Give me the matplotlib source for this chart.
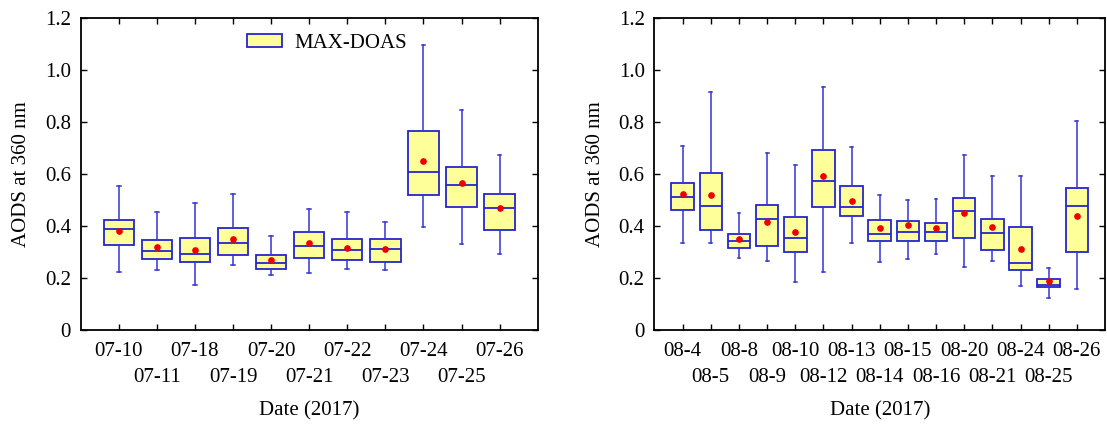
import matplotlib
matplotlib.use("Agg")
import matplotlib.pyplot as plt
from matplotlib.patches import Patch

plt.rcParams['font.family'] = ['Liberation Serif', 'DejaVu Serif']
FS = 15
plt.rcParams['font.size'] = FS

# ---- July 2017 daily AOD statistics ----
july_dates = ["07-10", "07-11", "07-18", "07-19", "07-20", "07-21",
              "07-22", "07-23", "07-24", "07-25", "07-26"]
july_low = [0.222, 0.229, 0.174, 0.250, 0.210, 0.221, 0.234, 0.231, 0.396, 0.330, 0.294]
july_q1 = [0.328, 0.275, 0.261, 0.290, 0.234, 0.276, 0.268, 0.261, 0.518, 0.475, 0.386]
july_med = [0.389, 0.305, 0.294, 0.335, 0.256, 0.325, 0.307, 0.312, 0.607, 0.557, 0.470]
july_q3 = [0.424, 0.348, 0.354, 0.394, 0.288, 0.377, 0.350, 0.350, 0.764, 0.627, 0.524]
july_high = [0.555, 0.452, 0.488, 0.523, 0.360, 0.466, 0.452, 0.417, 1.095, 0.846, 0.672]
july_mean = [0.380, 0.318, 0.308, 0.351, 0.271, 0.334, 0.316, 0.311, 0.649, 0.566, 0.469]

# ---- August 2017 daily AOD statistics ----
aug_dates = ["08-4", "08-5", "08-8", "08-9", "08-10", "08-12", "08-13", "08-14",
             "08-15", "08-16", "08-20", "08-21", "08-24", "08-25", "08-26"]
aug_low = [0.335, 0.333, 0.276, 0.267, 0.183, 0.223, 0.335, 0.263,
           0.274, 0.292, 0.242, 0.264, 0.171, 0.122, 0.159]
aug_q1 = [0.462, 0.386, 0.317, 0.323, 0.300, 0.473, 0.438, 0.344,
          0.341, 0.341, 0.355, 0.306, 0.231, 0.164, 0.299]
aug_med = [0.512, 0.478, 0.341, 0.427, 0.354, 0.573, 0.474, 0.368,
           0.378, 0.377, 0.458, 0.374, 0.258, 0.174, 0.477]
aug_q3 = [0.565, 0.603, 0.369, 0.481, 0.433, 0.694, 0.554, 0.422,
          0.419, 0.412, 0.508, 0.426, 0.395, 0.195, 0.546]
aug_high = [0.709, 0.915, 0.451, 0.681, 0.636, 0.936, 0.705, 0.521,
            0.501, 0.505, 0.674, 0.591, 0.591, 0.238, 0.804]
aug_mean = [0.524, 0.518, 0.351, 0.415, 0.377, 0.592, 0.497, 0.392,
            0.403, 0.394, 0.450, 0.397, 0.313, 0.187, 0.437]

yticks = [0, 0.2, 0.4, 0.6, 0.8, 1.0, 1.2]
ytick_labels = ["0", "0.2", "0.4", "0.6", "0.8", "1.0", "1.2"]

BOX_FACE = "#ffff99"
BOX_EDGE = "#2424d0"
WHISK = "#3434d6"
MEAN_C = "#ee0000"


def draw_panel(ax, dates, low, q1, med, q3, high, mean):
    stats = []
    for i in range(len(dates)):
        stats.append(dict(whislo=low[i], q1=q1[i], med=med[i], q3=q3[i],
                          whishi=high[i], mean=mean[i], fliers=[]))
    pos = list(range(1, len(dates) + 1))
    ax.bxp(stats, positions=pos, widths=0.8, patch_artist=True,
           showmeans=True, showfliers=False, manage_ticks=False,
           capwidths=0.1,
           boxprops=dict(facecolor=BOX_FACE, edgecolor=BOX_EDGE, linewidth=1.3),
           medianprops=dict(color=BOX_EDGE, linewidth=1.3),
           whiskerprops=dict(color=WHISK, linewidth=1.1),
           capprops=dict(color=WHISK, linewidth=1.1),
           meanprops=dict(marker="o", markerfacecolor=MEAN_C,
                          markeredgecolor=MEAN_C, markersize=3.8))
    ax.set_xlim(0, len(dates) + 1)
    ax.set_ylim(0, 1.2)
    # dates alternate between an upper row (major ticks) and a lower row (minor ticks)
    ax.set_xticks(pos[0::2], dates[0::2])
    ax.set_xticks(pos[1::2], dates[1::2], minor=True)
    ax.set_yticks(yticks, ytick_labels)
    ax.tick_params(axis="both", which="both", direction="in", top=True,
                   right=True, length=4.3, width=1.0, labelsize=FS)
    ax.tick_params(axis="x", which="major", pad=9)
    ax.tick_params(axis="x", which="minor", pad=27.5)
    ax.tick_params(axis="y", pad=7)
    for sp in ax.spines.values():
        sp.set_linewidth(1.3)
    ax.set_ylabel("AODS at 360 nm", fontsize=FS)
    ax.set_xlabel("Date (2017)", fontsize=FS)


fig = plt.figure(figsize=(11.07, 4.24), dpi=100)
ax1 = fig.add_axes([0.0729, 0.2217, 0.4128, 0.7358])
ax2 = fig.add_axes([0.5912, 0.2217, 0.4070, 0.7358])

draw_panel(ax1, july_dates, july_low, july_q1, july_med, july_q3, july_high, july_mean)
draw_panel(ax2, aug_dates, aug_low, aug_q1, aug_med, aug_q3, aug_high, aug_mean)

ax1.yaxis.set_label_coords(-0.108, 0.5)
ax2.yaxis.set_label_coords(-0.109, 0.5)
ax1.xaxis.set_label_coords(0.5, -0.228)
ax2.xaxis.set_label_coords(0.5, -0.228)

handle = Patch(facecolor=BOX_FACE, edgecolor=BOX_EDGE, linewidth=1.3)
ax1.legend([handle], ["MAX-DOAS"], loc="center left",
           bbox_to_anchor=(0.363, 0.918), frameon=False, borderpad=0,
           borderaxespad=0, handlelength=1.7, handleheight=0.58,
           handletextpad=0.58, fontsize=FS)

fig.savefig("out.png", dpi=100)
